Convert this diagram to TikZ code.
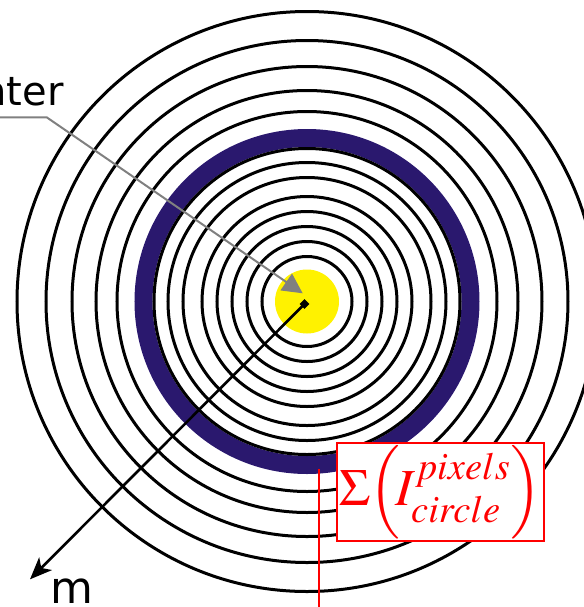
\documentclass[tikz,border=0pt]{standalone}
\usepackage{amsmath,amssymb}
\usepackage{mathptmx}
\usepackage{fontspec}
\newfontfamily\labelfont{DejaVu Sans}
\usepackage{tikz}
\usetikzlibrary{arrows.meta}
\definecolor{ringnavy}{RGB}{42,24,110}
\definecolor{spotyellow}{RGB}{255,242,0}
\definecolor{leadgray}{RGB}{128,128,128}

\begin{document}
\begin{tikzpicture}[x=0.5pt, y=-0.5pt,
    ring/.style={draw=black, line width=1.5pt},
    leader/.style={draw=leadgray, line width=1pt, -{Triangle[length=10pt,width=10pt]}},
    pointer/.style={draw=black, line width=1.3pt, {Square[length=3.5pt,width=3.5pt]}-{Stealth[length=11pt,width=9pt,inset=3pt]}},
    sumbox/.style={draw=red, line width=1pt, fill=white, text=red, minimum width=103.5pt, minimum height=46pt, inner sep=1pt, font=\fontsize{26}{28}\selectfont},
    lbl/.style={font=\labelfont\fontsize{20}{22}\selectfont, inner sep=0pt}]
  \clip (0,0) rectangle (584,607);
  \coordinate (ctr) at (307,301.5);
  \fill[spotyellow] (ctr) circle[radius=32];
  \draw[ringnavy, line width=9pt] (ctr) circle[radius=163.5];
  \draw[ring] (ctr) circle[radius=45];
  \draw[ring] (ctr) circle[radius=60];
  \draw[ring] (ctr) circle[radius=75];
  \draw[ring] (ctr) circle[radius=90];
  \draw[ring] (ctr) circle[radius=105];
  \draw[ring] (ctr) circle[radius=124];
  \draw[ring] (ctr) circle[radius=139];
  \draw[ring] (ctr) circle[radius=153];
  \draw[ring] (ctr) circle[radius=190];
  \draw[ring] (ctr) circle[radius=211];
  \draw[ring] (ctr) circle[radius=235];
  \draw[ring] (ctr) circle[radius=261];
  \draw[ring] (ctr) circle[radius=290];
  % labels
  \node[lbl, anchor=base east] (center) at (64,105) {Center};
  \node[lbl, anchor=base, font=\labelfont\fontsize{22}{24}\selectfont] (m) at (71.5,603) {m};
  \coordinate (cstart) at (-10,117.3);
  \coordinate (bend) at (46.7,117.3);
  \coordinate (ctip) at (302.7,293.3);
  \coordinate (mtip) at (30,579.3);
  \draw[leader] (cstart) -- (bend) -- (ctip);
  \draw[pointer] (ctr) -- (mtip);
  % sum over the circle
  \coordinate (rtop) at (319,469);
  \coordinate (rbot) at (319,620);
  \draw[red, line width=1pt] (rtop) -- (rbot);
  \node[sumbox] (sum) at (440.5,492.2) {$\Sigma\!\left(\!I^{pixels}_{circle}\right)$};
\end{tikzpicture}
\end{document}
